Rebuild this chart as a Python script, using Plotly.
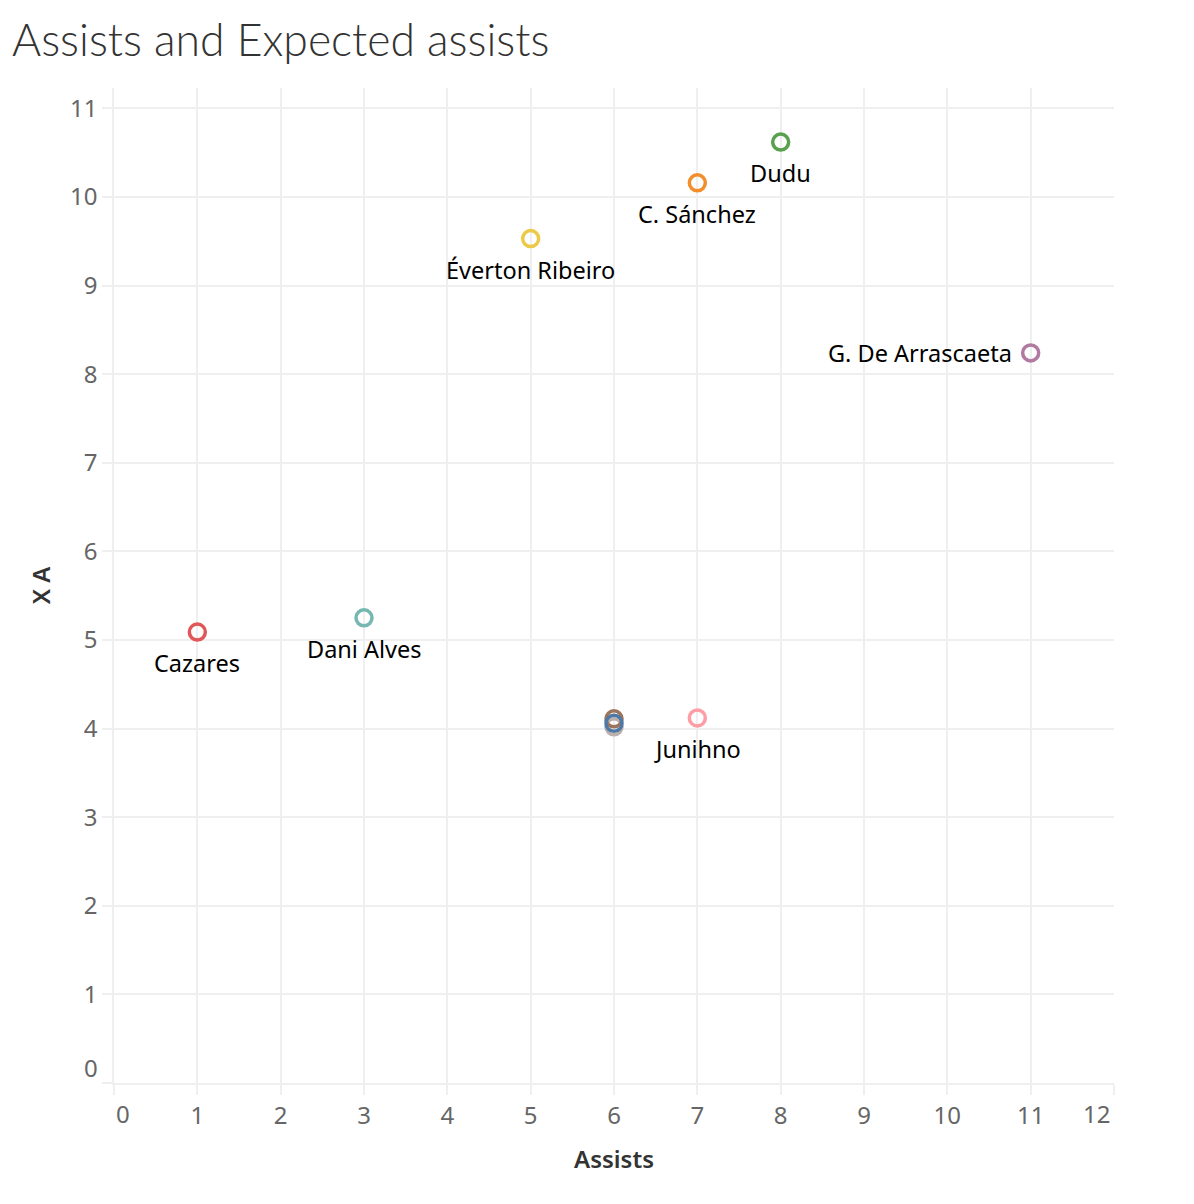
import plotly.graph_objects as go

players = ["Cazares", "Dani Alves", "Éverton Ribeiro", "C. Sánchez", "Dudu",
           "G. De Arrascaeta", "Junihno", "", "", ""]
assists = [1, 3, 5, 7, 8, 11, 7, 6, 6, 6]
xa = [5.09, 5.25, 9.53, 10.16, 10.62, 8.24, 4.12, 4.02, 4.11, 4.06]
colors = ["#e15759", "#76b7b2", "#edc948", "#f28e2b", "#59a14f",
          "#b07aa1", "#ff9da7", "#bab0ac", "#9c755f", "#4e79a7"]
label_side = ["below", "below", "below", "below", "below", "left", "below",
              "below", "below", "below"]

x_ticks = list(range(0, 13))
y_ticks = list(range(0, 12))
X_MAX = 12
Y_MAX = 11.23

TICK_FONT = dict(family="Noto Sans", size=24, color="#666666")
LABEL_FONT = dict(family="Noto Sans", size=23.5, color="#000000")
TITLE_FONT = dict(family="Noto Sans", size=24, color="#333333", weight=600)

W, H = 1186, 1196

fig = go.Figure()
fig.add_trace(go.Scatter(
    x=assists, y=xa, mode="markers",
    marker=dict(symbol="circle-open", size=16,
                color=colors, line=dict(width=3.5, color=colors)),
    hoverinfo="skip", cliponaxis=False,
))

annotations = []
for name, xv, yv, side in zip(players, assists, xa, label_side):
    if not name:
        continue
    if side == "left":
        annotations.append(dict(x=xv, y=yv, text=name, showarrow=False,
                                xanchor="right", yanchor="middle", xshift=-17,
                                font=LABEL_FONT))
    else:
        annotations.append(dict(x=xv, y=yv, text=name, showarrow=False,
                                xanchor="center", yanchor="middle", yshift=-31,
                                font=LABEL_FONT))

# edge tick labels, nudged inward like the original
annotations.append(dict(x=x_ticks[0], y=0, yref="paper", text=str(x_ticks[0]),
                        showarrow=False, xanchor="center", yanchor="middle",
                        xshift=9, yshift=-30, font=TICK_FONT))
annotations.append(dict(x=x_ticks[-1], y=0, yref="paper", text=str(x_ticks[-1]),
                        showarrow=False, xanchor="center", yanchor="middle",
                        xshift=-18, yshift=-30, font=TICK_FONT))
annotations.append(dict(x=0, xref="paper", y=y_ticks[0], text=str(y_ticks[0]),
                        showarrow=False, xanchor="right", yanchor="middle",
                        xshift=-14, yshift=16, font=TICK_FONT))

x_text = [str(v) for v in x_ticks]
x_text[0] = ""
x_text[-1] = ""
y_text = [str(v) for v in y_ticks]
y_text[0] = ""

fig.update_layout(
    width=W, height=H,
    paper_bgcolor="white", plot_bgcolor="white",
    margin=dict(l=106, r=80, t=80, b=121),
    showlegend=False,
    annotations=annotations,
    title=dict(text="Assists and Expected assists",
               x=4 / W, xanchor="left", y=1 - 32 / H, yanchor="middle",
               font=dict(family="Lato", size=44.5, color="#333333", weight=300)),
    xaxis=dict(range=[0, X_MAX], tickvals=x_ticks, ticktext=x_text,
               showgrid=True, gridcolor="#efefef", gridwidth=1.5,
               zeroline=False, showline=True, linecolor="#efefef", linewidth=1.5,
               ticks="outside", ticklen=10, tickcolor="#efefef", tickwidth=1.5,
               tickfont=TICK_FONT,
               title=dict(text="Assists", standoff=22, font=TITLE_FONT)),
    yaxis=dict(range=[0, Y_MAX], tickvals=y_ticks, ticktext=y_text,
               showgrid=True, gridcolor="#efefef", gridwidth=1.5,
               zeroline=False, showline=True, linecolor="#efefef", linewidth=1.5,
               ticks="outside", ticklen=10, tickcolor="#efefef", tickwidth=1.5,
               tickfont=TICK_FONT,
               title=dict(text="X A", standoff=13, font=TITLE_FONT)),
)

fig.write_html("out.html")
